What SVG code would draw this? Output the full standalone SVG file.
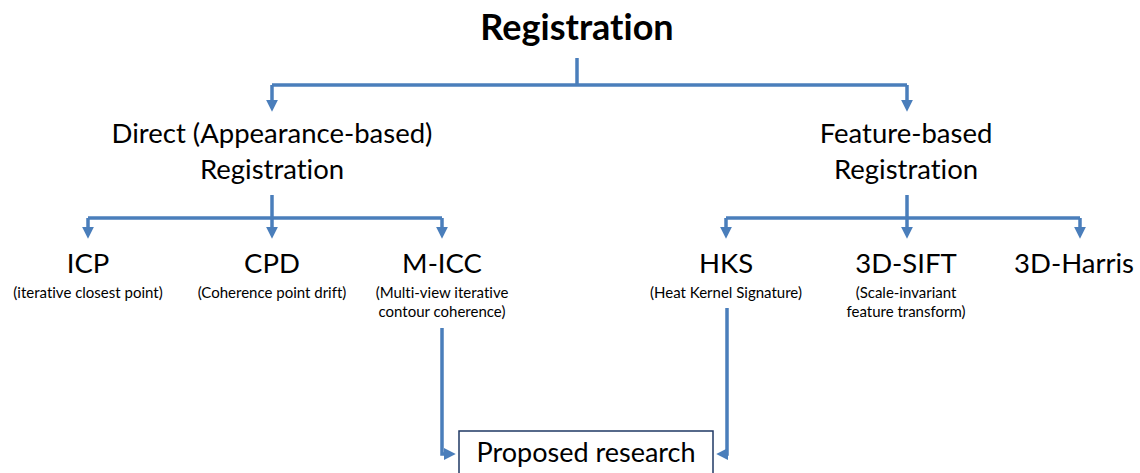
<svg xmlns="http://www.w3.org/2000/svg" width="1140" height="473" viewBox="0 0 1140 473">
  <style>
    .t { font-family: Lato, "Liberation Sans", sans-serif; fill: #000; text-anchor: middle; font-variant-ligatures: none; }
    .title { font-size: 36px; font-weight: bold; }
    .h { font-size: 27.5px; }
    .m { font-size: 27px; }
    .s { font-size: 15px; }
    .c { fill: none; stroke: #4a7ebb; stroke-width: 3.5; stroke-linejoin: miter; }
    .ca { fill: none; stroke: #4a7ebb; stroke-width: 3.5; marker-end: url(#ah); }
  </style>
  <defs>
    <marker id="ah" viewBox="0 0 10 10" refX="6" refY="5" markerWidth="3.4" markerHeight="3.4" orient="auto" markerUnits="strokeWidth">
      <path d="M0,0 L10,5 L0,10 z" fill="#4a7ebb"/>
    </marker>
  </defs>
  <rect width="1140" height="473" fill="#fff"/>

  <g id="connectors">
    <!-- root to level 1 -->
    <path class="c" d="M577,58 V85"/>
    <path class="c" d="M272,85 H907"/>
    <path class="ca" d="M272,85 V107"/>
    <path class="ca" d="M907,85 V107"/>
    <!-- direct branch -->
    <path class="c" d="M272,195 V218"/>
    <path class="c" d="M88,218 H442"/>
    <path class="ca" d="M88,218 V234"/>
    <path class="ca" d="M272,218 V234"/>
    <path class="ca" d="M442,218 V234"/>
    <!-- feature branch -->
    <path class="c" d="M907,195 V218"/>
    <path class="c" d="M726,218 H1080"/>
    <path class="ca" d="M726,218 V234"/>
    <path class="ca" d="M907,218 V234"/>
    <path class="ca" d="M1080,218 V234"/>
    <!-- into proposed research -->
    <path class="ca" d="M442,328 V454 H451"/>
    <path class="ca" d="M727,308 V454 H721"/>
  </g>

  <g id="registration">
    <text class="t title" x="577" y="40">Registration</text>
  </g>
  <g id="direct">
    <text class="t h" x="272" y="143">Direct (Appearance-based)</text>
    <text class="t h" x="272" y="179">Registration</text>
  </g>
  <g id="feature">
    <text class="t h" x="906" y="143">Feature-based</text>
    <text class="t h" x="906" y="179">Registration</text>
  </g>
  <g id="icp">
    <text class="t h" x="88" y="273">ICP</text>
    <text class="t s" x="88" y="298">(iterative closest point)</text>
  </g>
  <g id="cpd">
    <text class="t h" x="272" y="273">CPD</text>
    <text class="t s" x="272" y="298">(Coherence point drift)</text>
  </g>
  <g id="micc">
    <text class="t h" x="442" y="273">M-ICC</text>
    <text class="t s" x="442" y="298">(Multi-view iterative</text>
    <text class="t s" x="442" y="317">contour coherence)</text>
  </g>
  <g id="hks">
    <text class="t h" x="726" y="273">HKS</text>
    <text class="t s" x="726" y="298">(Heat Kernel Signature)</text>
  </g>
  <g id="sift">
    <text class="t h" x="906" y="273">3D-SIFT</text>
    <text class="t s" x="906" y="298">(Scale-invariant</text>
    <text class="t s" x="906" y="317">feature transform)</text>
  </g>
  <g id="harris">
    <text class="t h" x="1074" y="273">3D-Harris</text>
  </g>
  <g id="proposed">
    <rect x="459" y="431" width="254" height="50" fill="#fff" stroke="#1f3864" stroke-width="1.5"/>
    <text class="t m" x="586" y="462">Proposed research</text>
  </g>
</svg>
